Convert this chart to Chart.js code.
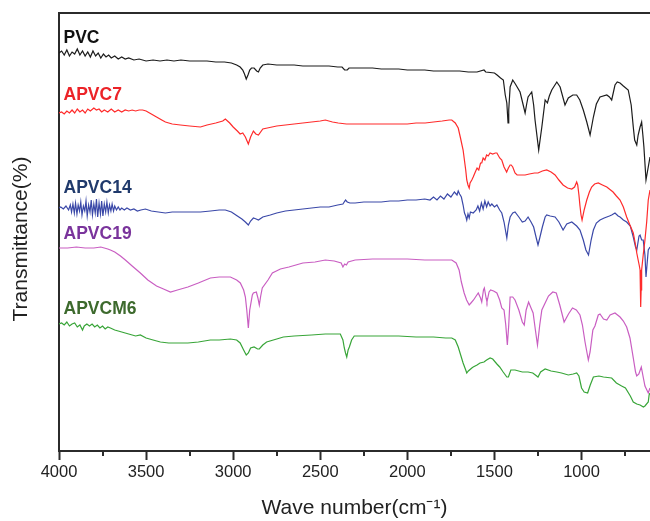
<!DOCTYPE html>
<html>
<head>
<meta charset="utf-8">
<script src="https://cdn.jsdelivr.net/npm/chart.js@4.4.1/dist/chart.umd.min.js"></script>
<style>
  html, body { margin: 0; padding: 0; background: #ffffff; overflow: hidden; }
  #c { display: block; }
</style>
</head>
<body>
<canvas id="c" width="650" height="521"></canvas>
<script>
// ---- Data (wavenumber in cm^-1, transmittance in arbitrary offset units) ----
const pvcWn = [4000,3985,3970,3955,3940,3925,3910,3895,3880,3865,3850,3835,3820,3805,3790,3775,3760,3745,3730,3715,3700,3680,3660,3640,3620,3600,3570,3540,3500,3460,3420,3380,3340,3300,3250,3200,3150,3100,3050,3010,2980,2960,2945,2935,2925,2915,2905,2895,2880,2865,2855,2845,2830,2800,2750,2700,2650,2600,2550,2500,2450,2400,2375,2360,2345,2335,2300,2250,2200,2150,2100,2050,2000,1950,1900,1850,1800,1750,1700,1650,1600,1560,1550,1500,1485,1465,1449,1438,1429,1422,1418,1410,1395,1380,1353,1335,1324,1315,1307,1286,1275,1267,1246,1228,1209,1196,1185,1171,1142,1123,1095,1076,1050,1028,1010,990,970,951,932,915,894,855,840,827,808,795,779,760,732,715,703,695,683,675,664,655,648,642,630,617,607];
const pvcT = [398,400,396,401,395,399,397,402,396,400,395,399,394,400,395,398,393,397,394,396,393,395,392,394,392,393,391,392,390,391,390,391,390,391,390,390,390,389,389,388,386,384,381,377,372,376,381,383,383,380,379,383,386,387,386,386,386,385,385,385,385,384,384,381,381,383,383,383,383,382,382,382,381,381,381,380,380,380,380,379,379,381,379,378,376,373,371,356,348,328,341,364,371,367,359,346,338,347,354,359,346,331,301,324,351,348,355,361,369,364,346,353,356,356,351,341,329,316,334,347,354,356,354,351,366,369,368,365,361,346,324,311,306,316,324,329,316,304,271,284,294];

const apvc7Wn = [4000,3985,3970,3955,3940,3925,3910,3895,3880,3865,3850,3835,3820,3800,3785,3770,3755,3740,3720,3700,3680,3660,3640,3620,3600,3580,3560,3540,3520,3500,3470,3440,3410,3389,3350,3303,3250,3188,3150,3100,3060,3045,3020,3000,2976,2960,2945,2930,2913,2900,2884,2870,2855,2830,2804,2750,2700,2650,2600,2550,2500,2471,2430,2397,2350,2300,2200,2100,2000,1950,1898,1850,1800,1760,1745,1725,1708,1695,1680,1665,1659,1652,1645,1640,1630,1622,1610,1600,1590,1580,1573,1565,1555,1545,1536,1525,1510,1495,1486,1470,1458,1445,1430,1420,1410,1404,1395,1382,1370,1350,1324,1300,1270,1250,1225,1200,1175,1152,1130,1106,1080,1056,1040,1028,1022,1015,1009,1003,997,985,970,955,942,925,904,880,855,819,800,779,760,741,720,703,690,683,675,668,664,661,660,658,655,646,636,626,617,607];
const apvc7T = [338,339,337,340,338,341,338,342,339,341,338,342,340,343,341,342,339,341,339,342,339,341,339,341,340,341,340,341,341,340,337,334,331,329,327,326,325,324,326,328,330,332,328,324,320,317,318,314,307,314,320,317,316,322,323,325,326,327,328,329,330,331,329,328,327,327,327,327,327,328,328,329,330,331,331,328,323,313,301,281,271,266,263,268,271,274,279,283,281,288,288,293,291,296,295,298,297,298,298,293,291,284,279,283,286,286,284,278,276,276,276,277,278,278,280,281,279,276,271,266,263,262,264,269,266,256,245,236,231,241,251,259,264,267,268,266,264,259,255,251,244,234,225,218,206,198,191,185,181,161,144,161,181,196,211,229,251,261];

const apvc14Wn = [4000,3990,3975,3960,3945,3935,3928,3920,3912,3905,3897,3890,3882,3875,3868,3860,3852,3845,3838,3830,3822,3815,3808,3800,3792,3785,3778,3770,3762,3755,3748,3740,3732,3725,3717,3710,3702,3695,3687,3680,3670,3660,3650,3640,3625,3610,3590,3570,3550,3530,3504,3470,3430,3389,3350,3303,3250,3188,3130,3080,3045,3010,2976,2950,2930,2913,2900,2884,2868,2855,2830,2787,2750,2700,2650,2600,2550,2500,2450,2400,2370,2355,2345,2330,2300,2250,2200,2150,2100,2050,2000,1950,1900,1870,1850,1830,1810,1790,1770,1750,1730,1715,1708,1700,1690,1680,1672,1665,1659,1652,1645,1638,1622,1605,1595,1585,1575,1565,1555,1545,1536,1525,1515,1500,1486,1470,1458,1445,1435,1429,1420,1410,1395,1382,1360,1340,1324,1307,1290,1275,1260,1250,1240,1225,1209,1200,1180,1152,1130,1106,1085,1056,1028,1009,990,975,960,945,932,915,894,870,840,827,808,790,779,760,741,720,703,690,683,670,664,655,646,636,630,617,607];
const apvc14T = [243,244,242,245,241,246,239,247,238,248,237,246,240,249,236,245,240,250,235,246,239,251,236,247,238,252,234,248,237,250,235,247,239,249,238,246,240,247,240,245,241,244,241,243,241,243,241,242,240,241,242,240,239,238,239,239,239,239,240,241,241,239,235,232,229,226,230,233,232,231,234,236,238,240,241,242,243,244,244,246,247,251,249,248,248,249,249,249,250,250,251,251,252,251,254,251,255,252,257,254,259,256,260,257,254,246,238,235,231,237,233,239,238,241,245,240,248,242,250,244,249,245,247,244,246,241,238,229,219,213,226,234,238,239,234,229,230,234,229,224,213,206,213,224,234,236,235,234,229,221,227,229,225,221,211,201,196,211,221,228,231,233,235,236,238,235,234,231,229,225,214,204,201,215,216,211,211,196,174,201,204];

const apvc19Wn = [4000,3950,3900,3850,3800,3760,3720,3705,3680,3647,3619,3580,3533,3490,3440,3400,3360,3320,3260,3200,3131,3080,3016,2980,2959,2940,2930,2922,2913,2905,2890,2884,2867,2858,2850,2842,2833,2800,2775,2729,2680,2600,2530,2471,2420,2380,2370,2360,2350,2340,2300,2200,2000,1900,1800,1745,1720,1703,1690,1674,1660,1645,1635,1620,1605,1593,1580,1573,1563,1558,1548,1543,1531,1522,1505,1486,1470,1458,1445,1435,1426,1418,1410,1395,1382,1360,1340,1329,1318,1304,1290,1278,1265,1253,1240,1228,1209,1190,1165,1145,1125,1100,1075,1052,1030,1009,995,980,961,951,935,923,904,894,874,855,836,808,779,760,741,722,703,690,683,671,657,645,636,617,607];
const apvc19T = [203,203,204,203,203,204,202,201,199,195,191,185,178,171,165,162,159,161,164,168,173,174,174,171,168,161,154,141,123,141,156,158,159,153,146,155,163,171,178,182,184,188,189,191,190,188,184,187,186,189,191,192,192,191,191,191,188,181,169,158,151,146,148,151,155,158,153,149,161,163,153,149,159,161,160,158,151,143,141,126,106,126,154,154,151,141,129,126,141,149,143,138,121,106,126,141,148,155,159,158,146,129,137,143,141,136,126,109,91,99,121,125,136,137,132,131,136,138,134,130,124,113,93,79,75,77,84,73,65,58,63];

const apvcm6Wn = [4000,3985,3970,3955,3940,3925,3910,3895,3880,3865,3855,3840,3825,3810,3795,3780,3765,3750,3735,3720,3705,3680,3660,3640,3620,3600,3560,3533,3500,3460,3418,3370,3320,3260,3200,3131,3080,3016,2980,2960,2940,2925,2913,2900,2880,2860,2850,2830,2808,2750,2712,2650,2550,2471,2385,2370,2362,2355,2348,2340,2333,2320,2305,2250,2150,2050,1950,1850,1780,1745,1725,1708,1694,1680,1665,1659,1650,1630,1622,1600,1583,1560,1545,1525,1510,1486,1470,1450,1429,1420,1406,1382,1340,1307,1280,1265,1250,1235,1209,1175,1142,1115,1076,1048,1028,1015,1000,985,965,950,932,900,874,827,800,770,748,720,703,683,664,645,636,617,612,607];
const apvcm6T = [127,128,126,129,125,127,128,124,126,121,125,127,125,127,124,126,123,125,122,124,123,121,120,119,118,117,115,116,113,111,109,108,108,108,109,111,111,112,111,108,101,96,98,103,104,102,102,106,109,112,114,115,116,117,117,111,103,98,94,101,104,111,115,115,115,115,114,114,113,113,111,104,96,88,81,78,80,83,84,86,88,89,91,93,92,87,84,79,74,74,81,81,79,79,78,76,74,79,82,80,79,78,76,77,78,75,63,59,58,66,74,75,74,73,68,65,63,55,49,47,46,44,45,49,56,58];

// Series names, colours, and label anchors (wavenumber, value at text baseline)
const seriesNames = ['PVC', 'APVC7', 'APVC14', 'APVC19', 'APVCM6'];
const lineColors  = ['#1c1c1c', '#ff2b2b', '#3a48a8', '#c95ec2', '#38a538'];
const labelColors = ['#111111', '#ec2328', '#203a6c', '#7a349c', '#3d6a2d'];
const labelWn     = [3974, 3974, 3974, 3974, 3974];
const labelT      = [407.7, 351.5, 257.7, 211.7, 136.7];

// Axis ticks
const xMajorTicks = [4000, 3500, 3000, 2500, 2000, 1500, 1000];
const xMinorTicks = [3750, 3250, 2750, 2250, 1750, 1250, 750];
const xMin = 607, xMax = 4000;
const yMin = 0, yMax = 438;

const FONT = "'Liberation Sans', Arial, Helvetica, sans-serif";
const AXIS_COLOR = '#2b2b2b';

function pts(wn, t) { return wn.map((w, i) => ({ x: w, y: t[i] })); }
const seriesData = [pts(pvcWn, pvcT), pts(apvc7Wn, apvc7T), pts(apvc14Wn, apvc14T), pts(apvc19Wn, apvc19T), pts(apvcm6Wn, apvcm6T)];
const drawOrder = [4, 0, 3, 1, 2]; // lower "order" drawn on top

const decorPlugin = {
  id: 'decor',
  afterDraw(chart) {
    const { ctx, chartArea, scales } = chart;
    const xs = scales.x, ys = scales.y;
    ctx.save();
    // minor ticks
    ctx.strokeStyle = AXIS_COLOR;
    ctx.lineWidth = 2;
    xMinorTicks.forEach(v => {
      const px = Math.round(xs.getPixelForValue(v));
      ctx.beginPath();
      ctx.moveTo(px, chartArea.bottom);
      ctx.lineTo(px, chartArea.bottom + 5);
      ctx.stroke();
    });
    // series labels
    ctx.font = 'bold 17.5px ' + FONT;
    ctx.textAlign = 'left';
    ctx.textBaseline = 'alphabetic';
    seriesNames.forEach((name, i) => {
      ctx.fillStyle = labelColors[i];
      ctx.fillText(name, xs.getPixelForValue(labelWn[i]), ys.getPixelForValue(labelT[i]));
    });
    // y axis title
    ctx.translate(21, (chartArea.top + chartArea.bottom) / 2 + 7);
    ctx.rotate(-Math.PI / 2);
    ctx.font = '21px ' + FONT;
    ctx.fillStyle = '#222222';
    ctx.textAlign = 'center';
    ctx.textBaseline = 'middle';
    ctx.fillText('Transmittance(%)', 0, 0);
    ctx.restore();
  }
};

new Chart(document.getElementById('c'), {
  type: 'scatter',
  data: {
    datasets: seriesNames.map((name, i) => ({
      label: name,
      data: seriesData[i],
      showLine: true,
      borderColor: lineColors[i],
      backgroundColor: lineColors[i],
      borderWidth: 1.2,
      pointRadius: 0,
      tension: 0,
      order: drawOrder[i]
    }))
  },
  options: {
    responsive: false,
    animation: false,
    devicePixelRatio: 1,
    layout: { padding: { top: 13, right: 0, bottom: 0, left: 0 } },
    plugins: { legend: { display: false }, tooltip: { enabled: false } },
    scales: {
      x: {
        type: 'linear', position: 'bottom', reverse: true, min: xMin, max: xMax,
        afterBuildTicks: s => { s.ticks = xMajorTicks.map(v => ({ value: v })); },
        ticks: { font: { family: FONT, size: 16.5 }, color: '#222222', padding: 3, maxRotation: 0, autoSkip: false, callback: v => String(v) },
        grid: { display: true, drawOnChartArea: false, drawTicks: true, tickLength: 9, tickWidth: 2, tickColor: AXIS_COLOR },
        border: { display: true, width: 2, color: AXIS_COLOR },
        title: { display: true, text: 'Wave number(cm\u207B\u00B9)', font: { family: FONT, size: 21 }, color: '#222222', padding: { top: 0, bottom: 0 } },
        afterFit: s => { s.height = 70; }
      },
      xTop: {
        type: 'linear', position: 'top', reverse: true, min: xMin, max: xMax,
        ticks: { display: false }, grid: { display: false },
        border: { display: true, width: 2, color: AXIS_COLOR },
        afterFit: s => { s.height = 0; }
      },
      y: {
        type: 'linear', position: 'left', min: yMin, max: yMax,
        ticks: { display: false }, grid: { display: false },
        border: { display: true, width: 2, color: AXIS_COLOR },
        afterFit: s => { s.width = 59; }
      }
    }
  },
  plugins: [decorPlugin]
});
</script>
</body>
</html>
